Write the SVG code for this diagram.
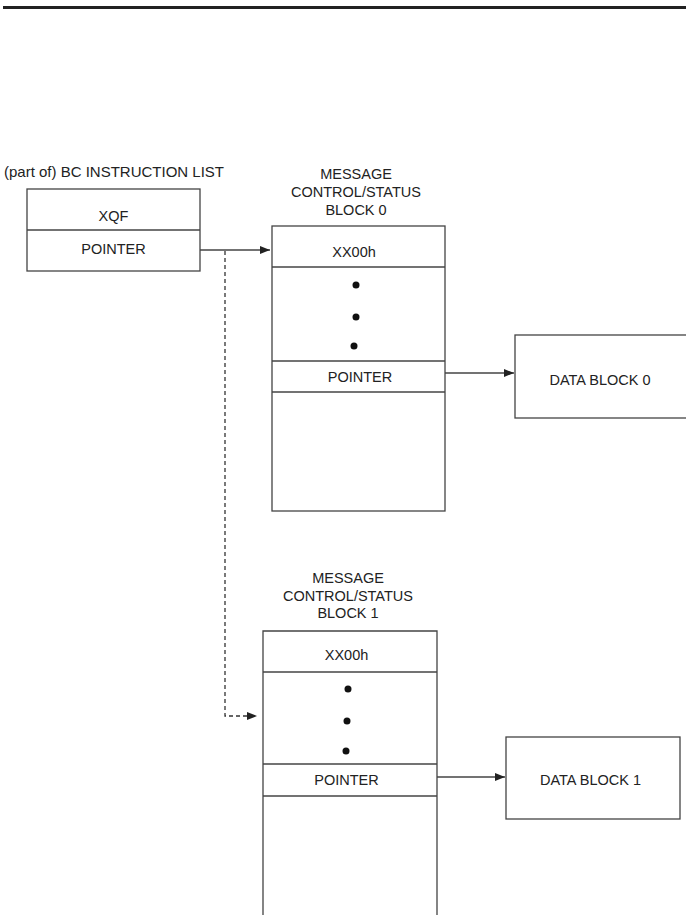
<svg xmlns="http://www.w3.org/2000/svg" width="686" height="915" viewBox="0 0 686 915">
<style>
text{font-family:"Liberation Sans",Arial,sans-serif;font-size:14.5px;fill:#222;text-anchor:middle}
.box{fill:#fff;stroke:#444;stroke-width:1.3}
.ln{stroke:#444;stroke-width:1.3;fill:none}
.dash{stroke:#333;stroke-width:1.3;fill:none;stroke-dasharray:4 3}
.dot{fill:#111}
</style>
<defs>
<marker id="ah" viewBox="0 0 10 8" refX="10" refY="4" markerWidth="10" markerHeight="8" markerUnits="userSpaceOnUse" orient="auto">
<path d="M0,0 L10,4 L0,8 Z" fill="#222"/>
</marker>
</defs>
<rect width="686" height="915" fill="#fff"/>
<line x1="3" y1="7.5" x2="686" y2="7.5" stroke="#222" stroke-width="3"/>

<g id="bc-list">
<text x="4" y="177" style="text-anchor:start;font-size:15px">(part of) BC INSTRUCTION LIST</text>
<rect class="box" x="27" y="189" width="173" height="82"/>
<line class="ln" x1="27" y1="230" x2="200" y2="230"/>
<text x="113.5" y="221">XQF</text>
<text x="113.5" y="254">POINTER</text>
</g>

<g id="mcs-block-0">
<text x="356" y="179">MESSAGE</text>
<text x="356" y="197">CONTROL/STATUS</text>
<text x="356" y="215">BLOCK 0</text>
<rect class="box" x="272" y="226" width="173" height="285"/>
<line class="ln" x1="272" y1="267" x2="445" y2="267"/>
<line class="ln" x1="272" y1="361" x2="445" y2="361"/>
<line class="ln" x1="272" y1="392" x2="445" y2="392"/>
<text x="354" y="257">XX00h</text>
<circle class="dot" cx="356" cy="285" r="3.5"/>
<circle class="dot" cx="356" cy="317" r="3.5"/>
<circle class="dot" cx="354" cy="346" r="3.5"/>
<text x="360" y="382">POINTER</text>
</g>

<g id="data-block-0">
<rect class="box" x="515" y="335" width="180" height="83"/>
<text x="600" y="385">DATA BLOCK 0</text>
</g>

<g id="mcs-block-1">
<text x="348" y="583">MESSAGE</text>
<text x="348" y="601">CONTROL/STATUS</text>
<text x="348" y="618">BLOCK 1</text>
<path class="ln" d="M263,916 V631 H437 V916" style="fill:#fff"/>
<line class="ln" x1="263" y1="672" x2="437" y2="672"/>
<line class="ln" x1="263" y1="764" x2="437" y2="764"/>
<line class="ln" x1="263" y1="796" x2="437" y2="796"/>
<text x="346.5" y="660">XX00h</text>
<circle class="dot" cx="348" cy="689" r="3.5"/>
<circle class="dot" cx="347" cy="721" r="3.5"/>
<circle class="dot" cx="346" cy="751" r="3.5"/>
<text x="346.5" y="785">POINTER</text>
</g>

<g id="data-block-1">
<rect class="box" x="506" y="737" width="174" height="82"/>
<text x="590.5" y="785">DATA BLOCK 1</text>
</g>

<g id="connectors">
<line class="ln" x1="200" y1="250" x2="270" y2="250" marker-end="url(#ah)"/>
<path class="dash" d="M225,251 V716 H257" marker-end="url(#ah)"/>
<line class="ln" x1="445" y1="373" x2="514" y2="373" marker-end="url(#ah)"/>
<line class="ln" x1="437" y1="777" x2="505" y2="777" marker-end="url(#ah)"/>
</g>
</svg>
